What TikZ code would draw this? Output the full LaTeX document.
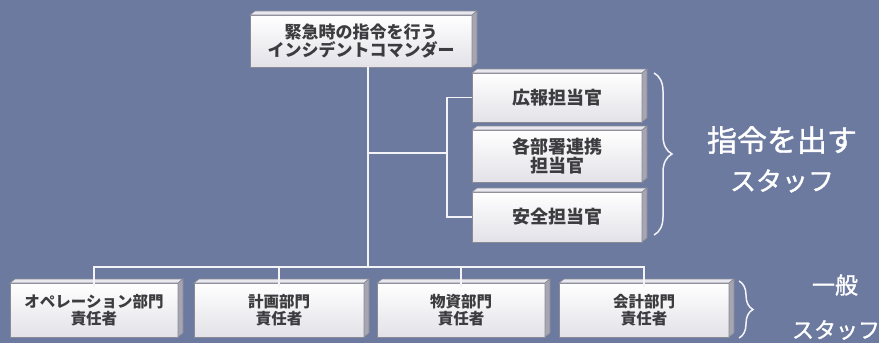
\documentclass[tikz,border=0pt]{standalone}
\usepackage{fontspec}
\newfontfamily\jp{Noto Sans CJK JP}
\newfontfamily\jpm{Noto Sans CJK JP}[FakeBold=1.3]
\usetikzlibrary{decorations.pathreplacing}
\definecolor{bg}{HTML}{6C7AA0}
\definecolor{txt}{HTML}{3C3C40}
\definecolor{edge}{HTML}{8A8A96}
\definecolor{facebot}{HTML}{E2E2E8}
\definecolor{topface}{HTML}{E8E8EE}
\definecolor{sideface}{HTML}{A6A6B2}
\definecolor{linec}{HTML}{F4F4F8}
\tikzset{
  box/.style={draw=edge, line width=0.8pt, top color=white, bottom color=facebot,
    outer sep=0pt, inner sep=2pt, align=center, text=txt,
    font=\jp\bfseries\fontsize{15.5}{17.5}\selectfont},
  rbox/.style={box, font=\jp\bfseries\fontsize{18}{19.5}\selectfont},
  tbox/.style={box, font=\jp\bfseries\fontsize{17}{17.5}\selectfont},
  conn/.style={draw=linec, line width=1.8pt},
  brace/.style={draw=linec, line width=1.5pt, decorate},
  big/.style={text=white, font=\jpm\fontsize{30}{32}\selectfont, inner sep=0pt},
  bigb/.style={text=white, font=\jpm\fontsize{26}{28}\selectfont, inner sep=0pt},
  mid/.style={text=white, font=\jpm\fontsize{23}{24}\selectfont, inner sep=0pt},
  midb/.style={text=white, font=\jpm\fontsize{22}{24}\selectfont, inner sep=0pt}
}
\begin{document}
\begin{tikzpicture}[x=1pt,y=-1pt]
\fill[bg] (0,0) rectangle (879,343);
\useasboundingbox (0,0) rectangle (879,343);

% boxes
\node[tbox, minimum width=222pt, minimum height=52pt] (top) at (361,41) {緊急時の指令を行う\\インシデントコマンダー};
\node[rbox, minimum width=170pt, minimum height=49pt] (r1) at (557,97.5) {広報担当官};
\node[rbox, minimum width=170pt, minimum height=52pt] (r2) at (557,156) {各部署連携\\担当官};
\node[rbox, minimum width=170pt, minimum height=50pt] (r3) at (557,217) {安全担当官};
\node[box, minimum width=168pt, minimum height=54pt] (b1) at (94,310) {オペレーション部門\\責任者};
\node[box, minimum width=170pt, minimum height=54pt] (b2) at (279,310) {計画部門\\責任者};
\node[box, minimum width=168pt, minimum height=54pt] (b3) at (461,310) {物資部門\\責任者};
\node[box, minimum width=170pt, minimum height=54pt] (b4) at (644,310) {会計部門\\責任者};

% 3D bevels
\foreach \n in {top,r1,r2,r3,b1,b2,b3,b4}{
  \filldraw[fill=topface, draw=edge, line width=0.6pt] (\n.north west) -- ([shift={(5,-4)}]\n.north west) -- ([shift={(5,-4)}]\n.north east) -- (\n.north east) -- cycle;
  \filldraw[fill=sideface, draw=edge, line width=0.6pt] (\n.north east) -- ([shift={(5,-4)}]\n.north east) -- ([shift={(5,-4)}]\n.south east) -- (\n.south east) -- cycle;
}

% junction coordinates
\coordinate (j) at (368,267);
\coordinate (k) at (368,153);
\coordinate (rv) at (447,153);

% connectors
\draw[conn] ([yshift=0.5]top.south -| j) -- (j);
\draw[conn] (k) -- (rv);
\draw[conn] (r1.west) -| (rv) |- (r3.west);
\draw[conn] ([yshift=-4]b1.north) -- (b1.north |- j) -- (b4.north |- j) -- ([yshift=-4]b4.north);
\draw[conn] ([yshift=-4]b2.north) -- (b2.north |- j);
\draw[conn] ([yshift=-4]b3.north) -- (b3.north |- j);

% braces
\draw[brace, decoration={brace, amplitude=18pt}] ([shift={(12,0)}]r1.north east) -- ([shift={(12,-7)}]r3.south east);
\draw[brace, decoration={brace, amplitude=14pt}] ([shift={(10,-2)}]b4.north east) -- ([shift={(10,1)}]b4.south east);

% labels
\node[big] (l1) at (782,140) {指令を出す};
\node[bigb] (l2) at (782,181) {スタッフ};
\node[mid] (l3) at (835,285) {一般};
\node[midb] (l4) at (836,330) {スタッフ};
\end{tikzpicture}
\end{document}
